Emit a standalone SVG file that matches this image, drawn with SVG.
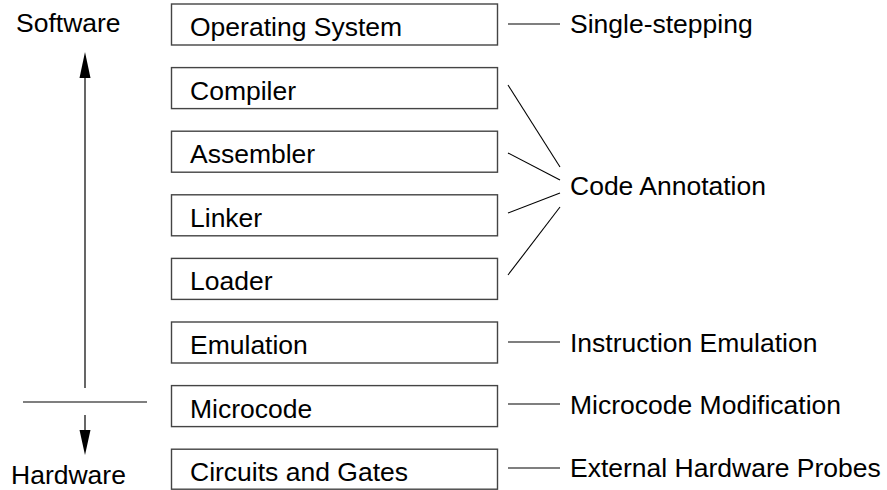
<svg xmlns="http://www.w3.org/2000/svg" width="887" height="490" viewBox="0 0 887 490">
<defs>
<style>
text{font-family:"Liberation Sans",Arial,sans-serif;font-size:26.5px;fill:#000}
.box rect{fill:#fff;stroke:#444;stroke-width:1.4}
.conn line{stroke:#000;stroke-width:1.1}
.ax{stroke:#000;stroke-width:1.2}
</style>
</defs>
<rect width="887" height="490" fill="#fff"/>
<g id="axis">
<text x="16" y="32">Software</text>
<text x="11" y="484">Hardware</text>
<line class="ax" x1="85" y1="388" x2="85" y2="76"/>
<polygon points="85,52 90.5,78 79.5,78" fill="#000"/>
<line class="ax" x1="23" y1="402" x2="147" y2="402"/>
<line class="ax" x1="85" y1="415" x2="85" y2="432"/>
<polygon points="85,455 90.5,430 79.5,430" fill="#000"/>
</g>
<g id="os" class="box"><rect x="171.5" y="4" width="326" height="41"/><text x="190" y="36">Operating System</text></g>
<g id="compiler" class="box"><rect x="171.5" y="67.6" width="326" height="41"/><text x="190" y="99.6">Compiler</text></g>
<g id="assembler" class="box"><rect x="171.5" y="131.2" width="326" height="41"/><text x="190" y="163.2">Assembler</text></g>
<g id="linker" class="box"><rect x="171.5" y="194.8" width="326" height="41"/><text x="190" y="226.8">Linker</text></g>
<g id="loader" class="box"><rect x="171.5" y="258.4" width="326" height="41"/><text x="190" y="290.4">Loader</text></g>
<g id="emulation" class="box"><rect x="171.5" y="322" width="326" height="41"/><text x="190" y="354">Emulation</text></g>
<g id="microcode" class="box"><rect x="171.5" y="385.6" width="326" height="41"/><text x="190" y="417.6">Microcode</text></g>
<g id="circuits" class="box"><rect x="171.5" y="449.2" width="326" height="40"/><text x="190" y="481.2">Circuits and Gates</text></g>
<g id="labels">
<text x="570" y="33">Single-stepping</text>
<text x="570" y="195">Code Annotation</text>
<text x="570" y="352">Instruction Emulation</text>
<text x="570" y="414">Microcode Modification</text>
<text x="570" y="477">External Hardware Probes</text>
</g>
<g id="connectors" class="conn">
<line x1="508" y1="24" x2="560" y2="24"/>
<line x1="508" y1="85" x2="560" y2="167"/>
<line x1="508" y1="153" x2="560" y2="180"/>
<line x1="508" y1="213" x2="560" y2="193"/>
<line x1="508" y1="275" x2="560" y2="207"/>
<line x1="508" y1="342" x2="560" y2="342"/>
<line x1="508" y1="404" x2="560" y2="404"/>
<line x1="508" y1="468" x2="560" y2="468"/>
</g>
</svg>
